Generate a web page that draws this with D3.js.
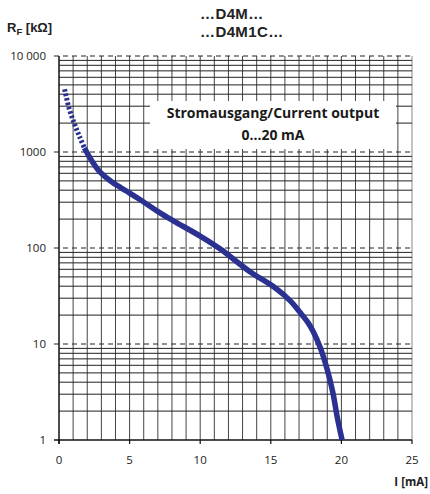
<!DOCTYPE html>
<html>
<head>
<meta charset="utf-8">
<script src="https://cdn.jsdelivr.net/npm/d3@7"></script>
<style>
  body { margin: 0; background: #fff; }
  svg { display: block; }
</style>
</head>
<body>
<script>
// data: current [mA] vs load resistance [kOhm]
let dottedI = [0.4, 0.7, 1.1, 1.45, 1.8];
let dottedR = [4500, 2900, 1950, 1450, 1100];
let solidI = [1.8, 2.3, 2.9, 3.8, 4.8, 5.7, 7.1, 8.1, 10, 11.4, 13.5, 15.3, 16.4, 17.05, 17.6, 18.0, 18.5, 19.0, 19.4, 19.7, 20.05];
let solidR = [1100, 820, 620, 480, 390, 322, 235, 192, 133, 98, 57, 38.5, 28, 21.5, 17, 13.5, 9.2, 5.4, 3.1, 1.75, 1];
let xTicks = [0, 5, 10, 15, 20, 25];
let yTicks = [1, 10, 100, 1000, 10000];
let yTickLabels = ["1", "10", "100", "1000", "10 000"];

// set the dimensions and margins of the graph
let margin = {top: 56, right: 18, bottom: 54, left: 59},
    width = 430 - margin.left - margin.right,
    height = 494 - margin.top - margin.bottom;

let x = d3.scaleLinear().domain([0, 25]).range([0, width]);
let y = d3.scaleLog().domain([1, 10000]).range([height, 0]);

let root = d3.select("body").append("svg")
    .attr("width", 430)
    .attr("height", 494);
let svg = root.append("g")
    .attr("transform", "translate(" + margin.left + "," + margin.top + ")");

// vertical grid, one line per mA
svg.selectAll(".vgrid")
    .data(d3.range(1, 26))
    .enter().append("line")
    .attr("x1", d => x(d)).attr("x2", d => x(d))
    .attr("y1", 0).attr("y2", height)
    .attr("stroke", d => d === 25 ? "#888" : "#444")
    .attr("stroke-width", 1);

// minor horizontal grid (2..9 in each decade)
let minor = [];
[1, 10, 100, 1000].forEach(function(d) {
    for (let k = 2; k <= 9; k++) minor.push(d * k);
});
svg.selectAll(".hgrid")
    .data(minor)
    .enter().append("line")
    .attr("x1", 0).attr("x2", width)
    .attr("y1", d => y(d)).attr("y2", d => y(d))
    .attr("stroke", "#222")
    .attr("stroke-width", 1);

// decade lines, dashed
svg.selectAll(".decade")
    .data(yTicks.slice(1))
    .enter().append("line")
    .attr("x1", -5).attr("x2", width)
    .attr("y1", d => y(d)).attr("y2", d => y(d))
    .attr("stroke", "#222")
    .attr("stroke-width", 1.1)
    .attr("stroke-dasharray", "5,4");

// legend box
let box = svg.append("g");
box.append("rect")
    .attr("x", 91).attr("y", 45)
    .attr("width", 246).attr("height", 48)
    .attr("fill", "#fff");
box.append("text")
    .attr("x", 214).attr("y", 62)
    .attr("text-anchor", "middle")
    .style("font", "bold 14px 'Open Sans'")
    .attr("fill", "#1a1a1a")
    .text("Stromausgang/Current output");
box.append("text")
    .attr("x", 214).attr("y", 84)
    .attr("text-anchor", "middle")
    .style("font", "bold 14px 'Open Sans'")
    .attr("fill", "#1a1a1a")
    .text("0\u202620 mA");

// left axis and bottom axis
svg.append("line")
    .attr("x1", 0).attr("x2", 0)
    .attr("y1", 0).attr("y2", height + 4)
    .attr("stroke", "#111").attr("stroke-width", 1.5);
svg.append("line")
    .attr("x1", -5).attr("x2", width)
    .attr("y1", height).attr("y2", height)
    .attr("stroke", "#111").attr("stroke-width", 1.5);
svg.selectAll(".xtick")
    .data(xTicks)
    .enter().append("line")
    .attr("x1", d => x(d)).attr("x2", d => x(d))
    .attr("y1", height).attr("y2", height + 4)
    .attr("stroke", "#111").attr("stroke-width", 1.2);

svg.selectAll(".xlabel")
    .data(xTicks)
    .enter().append("text")
    .attr("x", d => x(d))
    .attr("y", height + 24)
    .attr("text-anchor", "middle")
    .attr("fill", "#222")
    .style("font", "11.5px 'Open Sans'")
    .text(d => d);

svg.selectAll(".ylabel")
    .data(yTicks)
    .enter().append("text")
    .attr("x", -13)
    .attr("y", d => y(d) + 4)
    .attr("text-anchor", "end")
    .attr("fill", "#222")
    .style("font", "11.5px 'Open Sans'")
    .text((d, i) => yTickLabels[i]);

// the curve
let line = d3.line()
    .x(d => x(d[0]))
    .y(d => y(d[1]))
    .curve(d3.curveCatmullRom);

svg.append("path")
    .datum(d3.zip(dottedI, dottedR))
    .attr("d", line)
    .attr("fill", "none")
    .attr("stroke", "#2b3190")
    .attr("stroke-width", 5)
    .attr("stroke-dasharray", "2.5,2");

svg.append("path")
    .datum(d3.zip(solidI, solidR))
    .attr("d", line)
    .attr("fill", "none")
    .attr("stroke", "#2b3190")
    .attr("stroke-width", 5.5);

// titles
root.append("text")
    .attr("x", 200).attr("y", 19)
    .style("font", "bold 15px 'Liberation Sans'")
    .style("letter-spacing", "0.4px")
    .attr("fill", "#222")
    .text("\u2026D4M\u2026");
root.append("text")
    .attr("x", 200).attr("y", 37)
    .style("font", "bold 15px 'Liberation Sans'")
    .style("letter-spacing", "0.4px")
    .attr("fill", "#222")
    .text("\u2026D4M1C\u2026");

let rf = root.append("text")
    .attr("x", 7).attr("y", 32)
    .style("font", "bold 13px 'Liberation Sans'")
    .attr("fill", "#222");
rf.append("tspan").text("R");
rf.append("tspan").attr("dy", 3).style("font-size", "9.5px").text("F");
rf.append("tspan").attr("dy", -3).text(" [k\u03a9]");

root.append("text")
    .attr("x", 428).attr("y", 486)
    .attr("text-anchor", "end")
    .style("font", "bold 11.5px 'Open Sans'")
    .attr("fill", "#222")
    .text("I [mA]");
</script>
</body>
</html>
